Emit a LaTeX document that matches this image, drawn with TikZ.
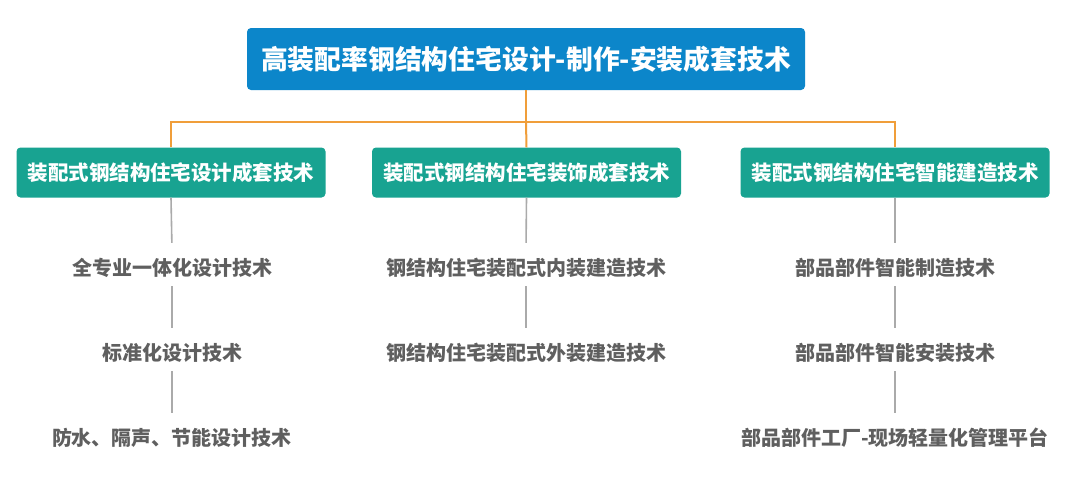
\documentclass[tikz,border=0pt]{standalone}
\usepackage{fontspec}
\setmainfont{Noto Sans CJK SC}
\begin{document}
\begin{tikzpicture}[x=1pt,y=-1pt,
  topbox/.style={fill=topblue, rounded corners=4pt, minimum width=558pt, minimum height=62pt, inner sep=0pt, text=white, font=\fontsize{26.8}{29}\selectfont\bfseries},
  midbox/.style={fill=tealbox, rounded corners=4pt, minimum width=309pt, minimum height=50pt, inner sep=0pt, text=white, font=\fontsize{20.5}{22}\selectfont\bfseries},
  subitem/.style={text=subgrey, minimum height=36pt, inner sep=0pt, font=\fontsize{20}{22}\selectfont\bfseries},
  orangeline/.style={draw=linkorange, line width=2pt},
  greyline/.style={draw=linegrey, line width=1.6pt, shorten >=7pt}
]
\definecolor{topblue}{RGB}{12,134,202}
\definecolor{tealbox}{RGB}{24,163,145}
\definecolor{linkorange}{RGB}{240,158,58}
\definecolor{linegrey}{RGB}{170,170,170}
\definecolor{subgrey}{RGB}{95,95,95}
\useasboundingbox[fill=white] (0,0) rectangle (1080,480);

\node[topbox] (top) at (526,59) {高装配率钢结构住宅设计-制作-安装成套技术};

\node[midbox] (b1) at (171,172.5) {装配式钢结构住宅设计成套技术};
\node[midbox] (b2) at (526.5,172.5) {装配式钢结构住宅装饰成套技术};
\node[midbox] (b3) at (895,172.5) {装配式钢结构住宅智能建造技术};

\coordinate (j) at (526,122);
\draw[orangeline] (top.south) -- (j);
\draw[orangeline, line join=miter] (b1.north) -- (b1.north |- j) -- (b3.north |- j) -- (b3.north);
\draw[orangeline] (j) -- (b2.north);

\node[subitem] (s11) at (172,268) {全专业一体化设计技术};
\node[subitem] (s12) at (172,353) {标准化设计技术};
\node[subitem] (s13) at (172,438) {防水、隔声、节能设计技术};

\node[subitem] (s21) at (526,268) {钢结构住宅装配式内装建造技术};
\node[subitem] (s22) at (526,353) {钢结构住宅装配式外装建造技术};

\node[subitem] (s31) at (895,268) {部品部件智能制造技术};
\node[subitem] (s32) at (895,353) {部品部件智能安装技术};
\node[subitem] (s33) at (895,438) {部品部件工厂-现场轻量化管理平台};

\draw[greyline] (b1.south) -- (s11.north);
\draw[greyline] (s11.south) -- (s12.north);
\draw[greyline] (s12.south) -- (s13.north);
\draw[greyline] (b2.south) -- (s21.north);
\draw[greyline] (s21.south) -- (s22.north);
\draw[greyline] (b3.south) -- (s31.north);
\draw[greyline] (s31.south) -- (s32.north);
\draw[greyline] (s32.south) -- (s33.north);
\end{tikzpicture}
\end{document}
